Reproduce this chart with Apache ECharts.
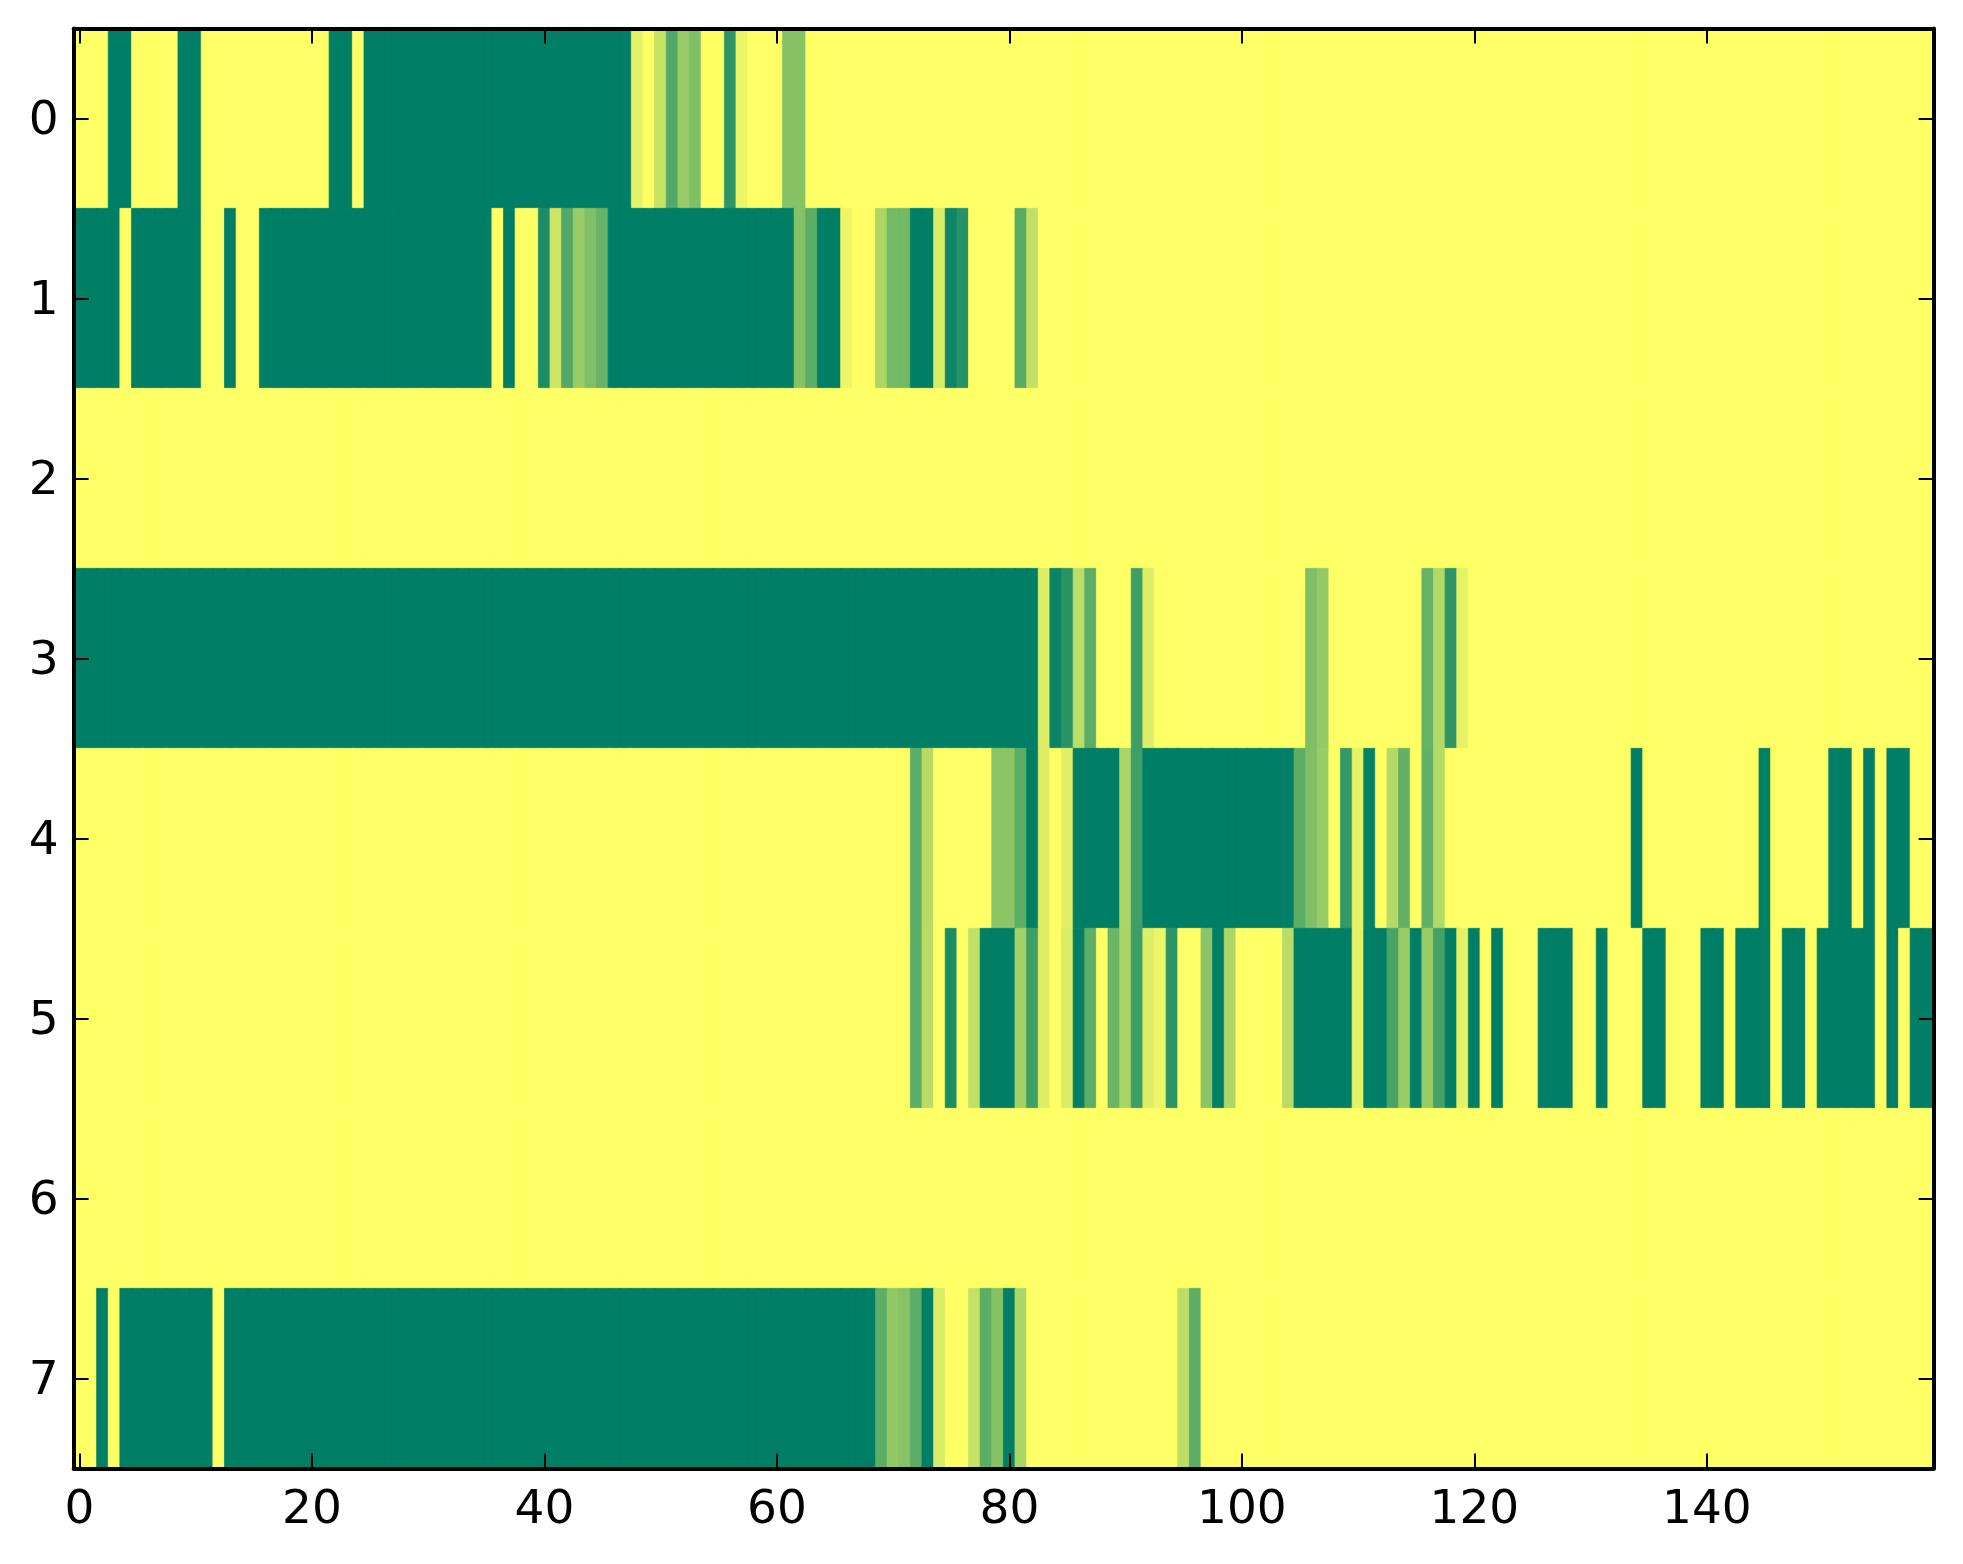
<!DOCTYPE html>
<html><head><meta charset="utf-8">
<style>html,body{margin:0;padding:0;background:#fff}#c{width:1963px;height:1564px}</style>
<script src="https://cdn.jsdelivr.net/npm/echarts@6/dist/echarts.min.js"></script>
</head><body><div id="c"></div>
<script>
const rowLabels = ['0','1','2','3','4','5','6','7'];
const columns = Array.from({length:160},(_,i)=>String(i));
const row0 = [
1,1,1,0,0,1,1,1,1,0, 0,1,1,1,1,1,1,1,1,1, 1,1,0,0,1,0,0,0,0,0, 0,0,0,0,0,0,0,0,0,0,
0,0,0,0,0,0,0,0,.9,1, .78,.32,.6,.5,1,1,.18,.92,1,1, 1,.53,.53,1,1,1,1,1,1,1, 1,1,1,1,1,1,1,1,1,1,
1,1,1,1,1,1,1,1,1,1, 1,1,1,1,1,1,1,1,1,1, 1,1,1,1,1,1,1,1,1,1, 1,1,1,1,1,1,1,1,1,1,
1,1,1,1,1,1,1,1,1,1, 1,1,1,1,1,1,1,1,1,1, 1,1,1,1,1,1,1,1,1,1, 1,1,1,1,1,1,1,1,1,1];
const row1 = [
0,0,0,0,1,0,0,0,0,0, 0,1,1,0,1,1,0,0,0,0, 0,0,0,0,0,0,0,0,0,0, 0,0,0,0,0,0,1,0,1,1,
.1,.8,.32,.6,.5,.4,0,0,0,0, 0,0,0,0,0,0,0,0,0,0, 0,0,.53,.36,0,0,.93,1,1,.68, .45,.45,0,0,.85,.05,.15,1,1,1,
1,.35,.76,1,1,1,1,1,1,1, 1,1,1,1,1,1,1,1,1,1, 1,1,1,1,1,1,1,1,1,1, 1,1,1,1,1,1,1,1,1,1,
1,1,1,1,1,1,1,1,1,1, 1,1,1,1,1,1,1,1,1,1, 1,1,1,1,1,1,1,1,1,1, 1,1,1,1,1,1,1,1,1,1];
const row2 = [
1,1,1,1,1,1,1,1,1,1, 1,1,1,1,1,1,1,1,1,1, 1,1,1,1,1,1,1,1,1,1, 1,1,1,1,1,1,1,1,1,1,
1,1,1,1,1,1,1,1,1,1, 1,1,1,1,1,1,1,1,1,1, 1,1,1,1,1,1,1,1,1,1, 1,1,1,1,1,1,1,1,1,1,
1,1,1,1,1,1,1,1,1,1, 1,1,1,1,1,1,1,1,1,1, 1,1,1,1,1,1,1,1,1,1, 1,1,1,1,1,1,1,1,1,1,
1,1,1,1,1,1,1,1,1,1, 1,1,1,1,1,1,1,1,1,1, 1,1,1,1,1,1,1,1,1,1, 1,1,1,1,1,1,1,1,1,1];
const row3 = [
0,0,0,0,0,0,0,0,0,0, 0,0,0,0,0,0,0,0,0,0, 0,0,0,0,0,0,0,0,0,0, 0,0,0,0,0,0,0,0,0,0,
0,0,0,0,0,0,0,0,0,0, 0,0,0,0,0,0,0,0,0,0, 0,0,0,0,0,0,0,0,0,0, 0,0,0,0,0,0,0,0,0,0,
0,0,0,.87,.04,.16,.74,.36,1,1, 1,.24,.87,1,1,1,1,1,1,1, 1,1,1,1,1,1,.5,.58,1,1, 1,1,1,1,1,1,.41,.7,.18,.9,
1,1,1,1,1,1,1,1,1,1, 1,1,1,1,1,1,1,1,1,1, 1,1,1,1,1,1,1,1,1,1, 1,1,1,1,1,1,1,1,1,1];
const row4 = [
1,1,1,1,1,1,1,1,1,1, 1,1,1,1,1,1,1,1,1,1, 1,1,1,1,1,1,1,1,1,1, 1,1,1,1,1,1,1,1,1,1,
1,1,1,1,1,1,1,1,1,1, 1,1,1,1,1,1,1,1,1,1, 1,1,1,1,1,1,1,1,1,1, 1,1,.36,.72,1,1,1,1,1,.55,
.55,.36,0,.87,1,.88,0,0,0,0, .67,.24,0,0,0,0,0,0,0,0, 0,0,0,0,0,.36,.5,.6,1,.2, .89,.02,1,.7,.39,1,.39,.7,1,1,
1,1,1,1,1,1,1,1,1,1, 1,1,1,1,0,1,1,1,1,1, 1,1,1,1,1,0,1,1,1,1, 1,0,0,1,0,1,0,0,1,1];
const row5 = [
1,1,1,1,1,1,1,1,1,1, 1,1,1,1,1,1,1,1,1,1, 1,1,1,1,1,1,1,1,1,1, 1,1,1,1,1,1,1,1,1,1,
1,1,1,1,1,1,1,1,1,1, 1,1,1,1,1,1,1,1,1,1, 1,1,1,1,1,1,1,1,1,1, 1,1,.36,.73,1,.1,1,.76,0,0,
0,.64,.25,.87,1,.85,0,.36,1,.42, .66,.24,.87,.93,.17,1,1,.54,0,.68, 1,1,1,1,.73,0,0,0,0,0, .89,0,0,.28,.6,0,.59,.27,0,.9,
0,1,0,1,1,1,0,0,0,1, 1,0,1,1,1,0,0,1,1,1, 0,0,1,0,0,0,1,0,0,1, 0,0,0,0,0,1,0,1,0,0];
const row6 = row2.slice();
const row7 = [
1,1,0,1,0,0,0,0,0,0, 0,0,1,0,0,0,0,0,0,0, 0,0,0,0,0,0,0,0,0,0, 0,0,0,0,0,0,0,0,0,0,
0,0,0,0,0,0,0,0,0,0, 0,0,0,0,0,0,0,0,0,0, 0,0,0,0,0,0,0,0,0,.36, .57,.53,.36,0,.85,1,1,.77,.36,.53,
0,.67,1,1,1,1,1,1,1,1, 1,1,1,1,1,.74,.36,1,1,1, 1,1,1,1,1,1,1,1,1,1, 1,1,1,1,1,1,1,1,1,1,
1,1,1,1,1,1,1,1,1,1, 1,1,1,1,1,1,1,1,1,1, 1,1,1,1,1,1,1,1,1,1, 1,1,1,1,1,1,1,1,1,1];
const rows = [row0,row1,row2,row3,row4,row5,row6,row7];
const ramp = ['#007f66','#ffff66'];

const cells = [];
rows.forEach((r,y)=>r.forEach((v,x)=>cells.push({
  value:[x,y,v],
  itemStyle:{borderColor:echarts.color.lerp(v,ramp),borderWidth:0.7}
})));

const txt = {color:'#000',fontFamily:'DejaVu Sans',fontSize:47};
const line = {show:true,onZero:false,lineStyle:{color:'#000',width:4}};
const tick = {show:true,inside:true,length:15,lineStyle:{color:'#000',width:2},alignWithLabel:true};
const xTick = Object.assign({},tick,{interval:19});
const chart = echarts.init(document.getElementById('c'),null,{renderer:'canvas'});
chart.setOption({
  animation:false,
  backgroundColor:'#fff',
  grid:{left:73.6,top:28.6,width:1860,height:1440,containLabel:false},
  visualMap:{show:false,min:0,max:1,dimension:2,seriesIndex:0,inRange:{color:ramp}},
  xAxis:[
    {type:'category',data:columns,position:'bottom',z:10,axisLine:line,axisTick:xTick,
     axisLabel:Object.assign({},txt,{interval:19,margin:19}),splitLine:{show:false},splitArea:{show:false}},
    {type:'category',data:columns,position:'top',z:10,axisLine:line,axisTick:xTick,
     axisLabel:{show:false},splitLine:{show:false}}
  ],
  yAxis:[
    {type:'category',data:rowLabels,inverse:true,position:'left',z:10,axisLine:line,axisTick:tick,
     axisLabel:Object.assign({},txt,{margin:15,verticalAlign:'top',lineHeight:6}),splitLine:{show:false}},
    {type:'category',data:rowLabels,inverse:true,position:'right',z:10,axisLine:line,axisTick:tick,
     axisLabel:{show:false},splitLine:{show:false}}
  ],
  series:[{type:'heatmap',xAxisIndex:0,yAxisIndex:0,data:cells,progressive:0,
    emphasis:{disabled:true}}]
});
</script></body></html>
